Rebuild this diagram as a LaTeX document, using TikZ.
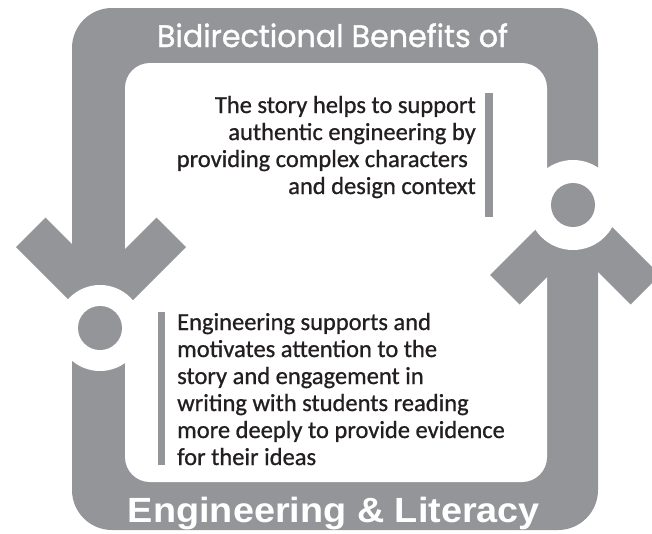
\documentclass[tikz,border=0pt]{standalone}
\usepackage{fontspec}
\usepackage{graphicx}
\newfontfamily\titlefont{Poppins}[FakeBold=1.2]
\newfontfamily\bodyfont{Carlito}[FakeBold=0.8]
\newfontfamily\bottomfont{Liberation Sans}
\definecolor{framegray}{RGB}{148,149,152}
\definecolor{inkdark}{RGB}{35,31,32}
\tikzset{
  grayfill/.style={fill=framegray},
  whitefill/.style={fill=white},
  bodyline/.style={font=\bodyfont\fontsize{24.5}{27}\selectfont, text=inkdark, inner sep=0pt},
  bandtext/.style={text=white, inner sep=0pt, anchor=base},
}
\begin{document}
\begin{tikzpicture}[x=1pt,y=-1pt]
\useasboundingbox (0,0) rectangle (652,533);
\clip (0,0) rectangle (652,533);
% frame
\fill[grayfill, rounded corners=40pt] (72,8) rectangle (598,530);
\fill[whitefill, rounded corners=25pt] (125,63) rectangle (547,482);
% left chevron (down)
\coordinate (lv) at (101,332);
\fill[grayfill] (lv) -- ++(-85,-85) -- ++(29.5,-29.5) -- ++(55.5,55.5) -- ++(55.5,-55.5) -- ++(29.5,29.5) -- cycle;
% right chevron (up)
\coordinate (rv) at (575,190);
\fill[grayfill] (rv) -- ++(-85,85) -- ++(29.5,29.5) -- ++(55.5,-55.5) -- ++(55.5,55.5) -- ++(29.5,-29.5) -- cycle;
% rings and dots
\coordinate (lc) at (100,328);
\coordinate (rc) at (573,205);
\fill[whitefill] (lc) circle[radius=43pt];
\fill[whitefill] (rc) circle[radius=45pt];
\fill[grayfill] (lc) circle[radius=22pt];
\fill[grayfill] (rc) circle[radius=22pt];
% bars
\fill[grayfill] (485,93) rectangle (493,217);
\fill[grayfill] (158,312) rectangle (165,465);
% title texts
\node[bandtext] (title) at (332.5,47) {\resizebox{351pt}{\height}{\titlefont\fontsize{31}{31}\selectfont Bidirectional Benefits of}};
\node[bandtext] (bottom) at (334,522) {\resizebox{412pt}{\height}{\bottomfont\bfseries\fontsize{35}{35}\selectfont Engineering \& Literacy}};
% upper text
\node[bodyline, anchor=base east] (u1) at (476,113) {The story helps to support};
\node[bodyline, anchor=base east] (u2) at (476,140) {authentic engineering by};
\node[bodyline, anchor=base east] (u3) at (468,167) {providing complex characters};
\node[bodyline, anchor=base east] (u4) at (476,194) {and design context};
% lower text
\node[bodyline, anchor=base west] (l1) at (177,330) {Engineering supports and};
\node[bodyline, anchor=base west] (l2) at (177,357) {motivates attention to the};
\node[bodyline, anchor=base west] (l3) at (177,384) {story and engagement in};
\node[bodyline, anchor=base west] (l4) at (177,411) {writing with students reading};
\node[bodyline, anchor=base west] (l5) at (177,438) {more deeply to provide evidence};
\node[bodyline, anchor=base west] (l6) at (177,465) {for their ideas};
\end{tikzpicture}
\end{document}
